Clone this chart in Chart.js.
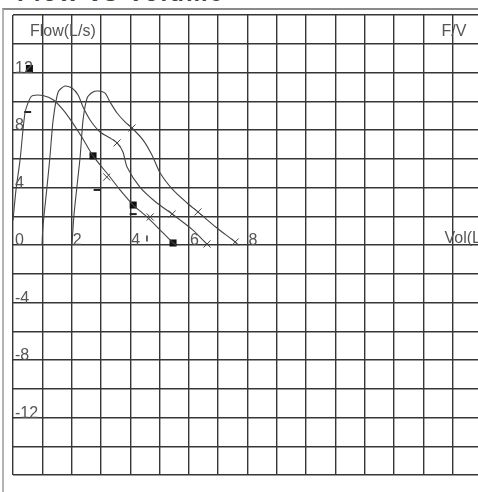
<!DOCTYPE html>
<html>
<head>
<meta charset="utf-8">
<script src="https://cdn.jsdelivr.net/npm/chart.js@4/dist/chart.umd.min.js"></script>
<style>
  html, body { margin: 0; padding: 0; background: #fff; overflow: hidden; width: 478px; height: 492px; }
  #frame { position: absolute; left: 2px; top: 8px; width: 520px; height: 500px; border-top: 2px solid #8a8a8a; border-left: 2px solid #b4b4b4; }
  #title { position: absolute; left: 17px; top: -19px; font: bold 24px/24px "Liberation Sans", Arial, sans-serif; color: #444; letter-spacing: 2px; white-space: nowrap; }
  #wrap { position: absolute; left: 0; top: 0; }
</style>
</head>
<body>
<div id="title">Flow vs Volume</div>
<div id="frame"></div>
<div id="wrap"><canvas id="fv" width="490" height="492"></canvas></div>
<script>
// three expiratory efforts, volume (L) against flow (L/s)
const volA  = [0, 0.1, 0.24, 0.41, 0.58, 0.68, 1.02, 1.37, 1.71, 2.0, 2.35, 2.73, 3.31, 3.65, 4.1, 4.57, 5.02, 5.46, 5.56];
const flowA = [1.7, 3.8, 5.9, 9.2, 10.2, 10.4, 10.4, 10.1, 9.4, 8.6, 7.5, 6.2, 4.73, 3.83, 2.78, 1.95, 1.04, 0.14, 0];

const volB  = [0.99, 1.02, 1.16, 1.26, 1.37, 1.54, 1.77, 2.01, 2.22, 2.39, 2.63, 2.97, 3.31, 3.55, 3.75, 3.89, 4.33, 4.91, 5.43, 6.14, 6.62, 6.72];
const flowB = [0, 1.25, 4.03, 6.12, 8.7, 10.64, 11.06, 10.92, 10.43, 9.6, 8.7, 7.86, 7.44, 7.1, 6.47, 5.43, 4.03, 2.92, 2.16, 1.04, 0.07, 0];

const volC  = [2.01, 2.08, 2.18, 2.29, 2.39, 2.53, 2.73, 2.9, 3.14, 3.31, 3.55, 3.82, 4.06, 4.44, 4.74, 5.02, 5.46, 5.94, 6.31, 6.96, 7.58, 7.68];
const flowC = [0, 2.09, 4.03, 6.12, 8.7, 10.23, 10.64, 10.71, 10.57, 9.95, 9.18, 8.56, 8.14, 7.3, 6.26, 5.01, 3.83, 2.92, 2.3, 1.18, 0.21, 0];

// filled squares
const sqVol  = [0.56, 2.73, 4.1, 5.46];
const sqFlow = [12.28, 6.2, 2.78, 0.14];
// x marks along the curves
const xVol  = [3.2, 4.68, 3.55, 5.43, 6.62, 4.06, 6.31, 7.58];
const xFlow = [4.73, 1.95, 7.1, 2.16, 0.07, 8.14, 2.3, 0.21];
// short dashes
const dashVol  = [0.5, 2.87, 4.1];
const dashFlow = [9.25, 3.83, 2.15];
// small upright tick
const tickVol  = [4.57];
const tickFlow = [0.45];

const xLabels = [2, 4, 6, 8];
const yLabels = [12, 8, 4, 0, -4, -8, -12];

const ink = '#363636';
const txt = '#555';
const font = '16px "Liberation Sans", Arial, sans-serif';

const pts = (xs, ys) => xs.map((v, i) => ({ x: v, y: ys[i] }));

function curve(xs, ys) {
    return { data: pts(xs, ys), showLine: true, borderColor: '#444', borderWidth: 1.1, pointRadius: 0, tension: 0.25 };
}

// axis numbers sit inside the plot, next to the grid lines
const innerLabels = {
    id: 'innerLabels',
    afterDatasetsDraw(chart) {
        const { ctx, scales: { x, y }, chartArea } = chart;
        ctx.save();
        ctx.fillStyle = txt;
        ctx.font = font;
        ctx.textBaseline = 'alphabetic';
        ctx.textAlign = 'left';
        yLabels.forEach(v => ctx.fillText(String(v), chartArea.left + 2, y.getPixelForValue(v)));
        xLabels.forEach(v => ctx.fillText(String(v), x.getPixelForValue(v) + 1, y.getPixelForValue(0)));
        ctx.fillText('Flow(L/s)', chartArea.left + 17, y.getPixelForValue(14) - 8);
        ctx.fillText('F/V', x.getPixelForValue(14.62), y.getPixelForValue(14) - 8);
        ctx.fillText('Vol(L)', x.getPixelForValue(14.72), y.getPixelForValue(0) - 2);
        ctx.restore();
    }
};

new Chart(document.getElementById('fv'), {
    type: 'scatter',
    data: {
        datasets: [
            curve(volA, flowA),
            curve(volB, flowB),
            curve(volC, flowC),
            { data: pts(sqVol, sqFlow), pointStyle: 'rect', pointRadius: 5, backgroundColor: '#111', borderColor: '#111', borderWidth: 0 },
            { data: pts(xVol, xFlow), pointStyle: 'crossRot', pointRadius: 5, borderColor: '#444', borderWidth: 1 },
            { data: pts(dashVol, dashFlow), pointStyle: 'line', pointRadius: 3.5, borderColor: '#222', borderWidth: 2 },
            { data: pts(tickVol, tickFlow), pointStyle: 'line', rotation: 90, pointRadius: 3, borderColor: '#333', borderWidth: 1.5 }
        ]
    },
    options: {
        responsive: false,
        animation: false,
        layout: { padding: { left: 13, top: 15, right: 8, bottom: 17 } },
        plugins: { legend: { display: false }, tooltip: { enabled: false } },
        scales: {
            x: {
                type: 'linear', min: 0, max: 16,
                ticks: { stepSize: 1, display: false },
                grid: { color: ink, lineWidth: 1.4, drawTicks: false },
                border: { display: false }
            },
            y: {
                type: 'linear', min: -16, max: 16,
                ticks: { stepSize: 2, display: false },
                grid: { color: ink, lineWidth: 1.4, drawTicks: false },
                border: { display: false }
            }
        }
    },
    plugins: [innerLabels]
});
</script>
</body>
</html>
